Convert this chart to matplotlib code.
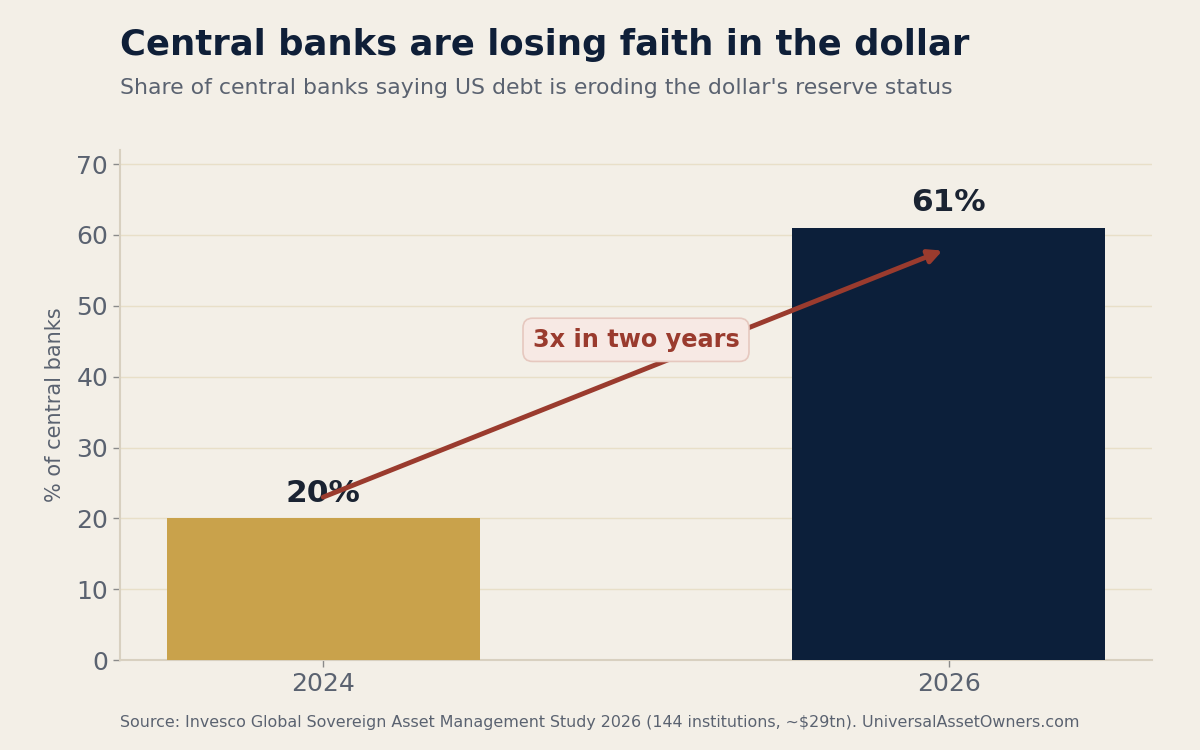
import matplotlib
matplotlib.use("Agg")
import matplotlib.pyplot as plt

years = ["2024", "2026"]
shares = [20, 61]
bar_colors = ["#c9a24b", "#0c1f3a"]
bar_labels = ["20%", "61%"]

bg = "#f3efe7"
fig = plt.figure(figsize=(12, 7.5), dpi=100, facecolor=bg)
ax = fig.add_axes([0.1, 0.12, 0.86, 0.68], facecolor=bg)

x = list(range(len(years)))
ax.bar(x, shares, width=0.5, color=bar_colors, zorder=3)
for xi, v, lab in zip(x, shares, bar_labels):
    ax.text(xi, v + 1.5, lab, ha="center", va="bottom", fontsize=22.5,
            fontweight="bold", color="#1a2332", zorder=5)

ax.set_ylim(0, 72)
ax.set_yticks(range(0, 71, 10))
ax.set_xticks(x)
ax.set_xticklabels(years)
ax.tick_params(axis="both", labelsize=18, colors="#5a6270", length=5, width=1)
ax.tick_params(axis="both", color="#8a8a8a")
ax.set_ylabel("% of central banks", fontsize=15, color="#5a6270", labelpad=8)
ax.grid(axis="y", color="#e8dfc8", linewidth=1, zorder=0)
for s in ["top", "right"]:
    ax.spines[s].set_visible(False)
for s in ["left", "bottom"]:
    ax.spines[s].set_color("#d8d0c0")
    ax.spines[s].set_linewidth(1.5)

ax.annotate("", xy=(0.99, 57.8), xytext=(0, 23),
            arrowprops=dict(arrowstyle="-|>", color="#9a3b2e", lw=3.5,
                            mutation_scale=20, shrinkA=0, shrinkB=0), zorder=6)
ax.text(0.5, 45.2, "3x in two years", ha="center", va="center", fontsize=17.3,
        fontweight="bold", color="#9a3b2e", zorder=7,
        bbox=dict(boxstyle="round,pad=0.4", fc="#f7e9e4", ec="#e6c8bf", lw=1.2))

fig.text(0.1, 0.94, "Central banks are losing faith in the dollar", fontsize=25.5,
         fontweight="bold", color="#0f1f38", va="center")
fig.text(0.1, 0.883, "Share of central banks saying US debt is eroding the dollar's reserve status",
         fontsize=15.8, color="#5a6270", va="center")
fig.text(0.1, 0.037, "Source: Invesco Global Sovereign Asset Management Study 2026 (144 institutions, ~$29tn). UniversalAssetOwners.com",
         fontsize=11.45, color="#5a6270", va="center")

fig.savefig("out.png", dpi=100, facecolor=bg)
